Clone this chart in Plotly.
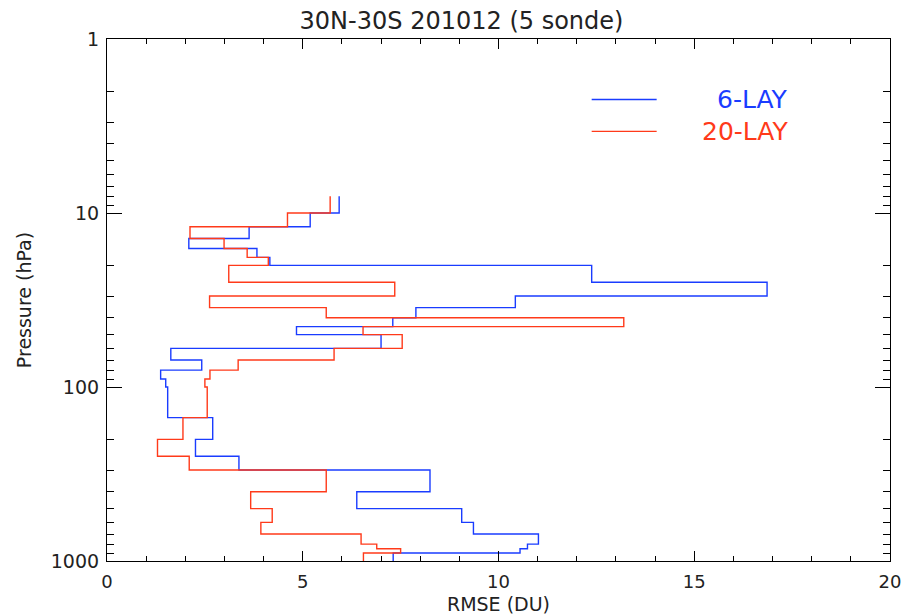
import plotly.graph_objects as go

# Layer boundaries (hPa), bottom to top
levels = [1000, 900, 850, 800, 700, 600, 500, 400, 300, 250, 200, 150, 100, 90, 80,
          70, 60, 50, 45, 40, 35, 30, 25, 20, 18, 16, 14, 12, 10, 8]

# RMSE per layer (DU), bottom to top
rmse_6lay = [7.31, 10.55, 10.74, 11.02, 9.36, 9.06, 6.38, 8.25, 3.37, 2.26, 2.70, 1.55,
             1.50, 1.37, 2.42, 1.63, 7.00, 4.84, 7.30, 7.89, 10.43, 16.86, 12.38, 4.16,
             3.83, 2.09, 3.63, 5.19, 5.93]
rmse_20lay = [6.55, 7.50, 6.89, 6.49, 3.93, 4.22, 3.67, 5.60, 2.10, 1.29, 1.94, 2.56,
              2.50, 2.63, 3.35, 5.80, 7.54, 6.54, 13.20, 5.60, 2.62, 7.35, 3.11, 4.12,
              3.58, 2.99, 2.12, 4.61, 5.70]

series_names = ["6-LAY", "20-LAY"]
series_colors = ["#1a3cff", "#ff3a1a"]

x_ticks = [0, 5, 10, 15, 20]
y_ticks = [1, 10, 100, 1000]
y_minor = [m * d for d in (1, 10, 100) for m in range(2, 10)]


def step_profile(vals):
    xs, ys = [], []
    for i, v in enumerate(vals):
        xs += [v, v]
        ys += [levels[i], levels[i + 1]]
    return xs, ys


fig = go.Figure()
for name, vals, col in zip(series_names, [rmse_6lay, rmse_20lay], series_colors):
    xs, ys = step_profile(vals)
    fig.add_trace(go.Scatter(x=xs, y=ys, mode="lines", name=name, showlegend=False,
                             line=dict(color=col, width=1.4)))

# legend drawn as key lines + coloured labels (paper coordinates)
legend_y = [0.884, 0.823]
for name, col, ly in zip(series_names, series_colors, legend_y):
    fig.add_shape(type="line", xref="paper", yref="paper", x0=0.619, x1=0.702,
                  y0=ly, y1=ly, line=dict(color=col, width=1.4))
    fig.add_annotation(xref="paper", yref="paper", x=0.872, y=ly, xanchor="right",
                       yanchor="middle", text=name, showarrow=False,
                       font=dict(size=25, color=col))

font_fam = "DejaVu Sans, Liberation Sans, sans-serif"
fig.update_layout(
    width=923, height=615,
    margin=dict(l=107, r=33, t=39, b=54),
    plot_bgcolor="white", paper_bgcolor="white",
    font=dict(family=font_fam, color="#222222", size=19),
    title=dict(text="30N-30S 201012 (5 sonde)", x=0.5, xanchor="center",
               y=0.966, yanchor="middle", font=dict(size=24, color="#222222")),
    showlegend=False,
)

fig.update_xaxes(
    range=[0, 20], tickvals=x_ticks, ticktext=[str(v) for v in x_ticks],
    ticks="inside", ticklen=10, tickwidth=1.2, tickcolor="black",
    minor=dict(dtick=1, ticks="inside", ticklen=5, tickcolor="black", tickwidth=1, showgrid=False),
    showline=True, linecolor="black", linewidth=1.2, mirror="allticks",
    showgrid=False, zeroline=False, ticklabelstandoff=4, automargin=False,
    title=dict(text="RMSE (DU)", standoff=9, font=dict(size=19)),
    tickfont=dict(size=18),
)
fig.update_yaxes(
    type="log", range=[3, 0], tickvals=y_ticks, ticktext=[str(v) for v in y_ticks],
    ticks="inside", ticklen=15, tickwidth=1.2, tickcolor="black",
    minor=dict(tickmode="array", tickvals=y_minor, ticks="inside", ticklen=7,
               tickcolor="black", tickwidth=1, showgrid=False),
    showline=True, linecolor="black", linewidth=1.2, mirror="allticks",
    showgrid=False, zeroline=False, ticklabelstandoff=3, automargin=False,
    title=dict(text="Pressure (hPa)", standoff=14, font=dict(size=19)),
    tickfont=dict(size=19),
)

fig.write_html("out.html")
